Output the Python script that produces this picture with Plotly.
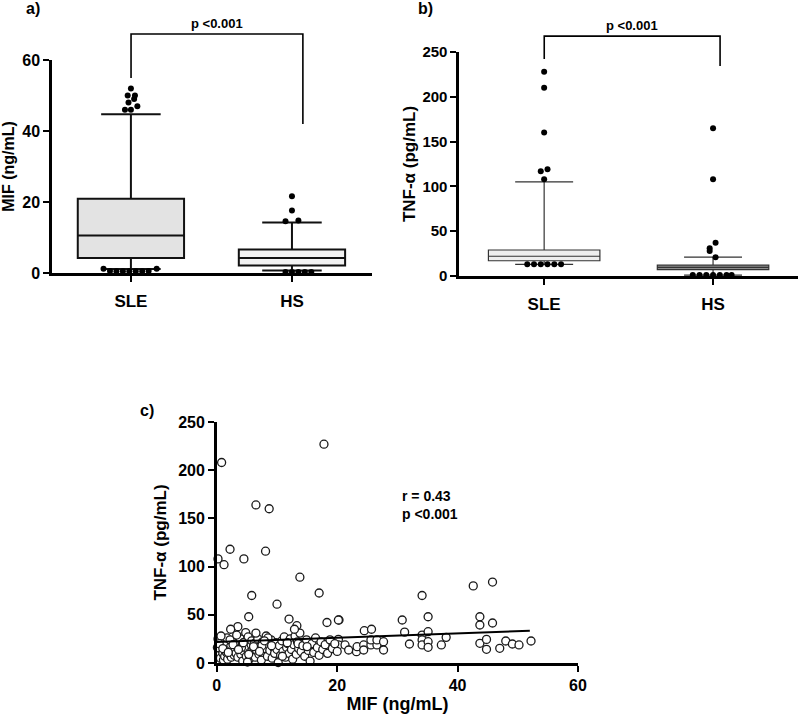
import plotly.graph_objects as go

# ---------------- data ----------------
categories = ["SLE", "HS"]
cat_pos = [0, 1]

# panel a: MIF (ng/mL) box summary
mif_q1 = [4.2, 2.1]
mif_median = [10.6, 4.2]
mif_q3 = [20.9, 6.6]
mif_low = [1.1, 0.7]
mif_high = [44.7, 14.2]
# outliers (category offset, value)
mif_sle_out_dx = [0.0, -0.02, 0.025, 0.02, -0.015, 0.04, -0.037, 0.0,
                  -0.17, -0.13, -0.09, -0.05, -0.01, 0.03, 0.07, 0.11, 0.16]
mif_sle_out_y = [52.0, 50.0, 50.0, 49.0, 48.0, 47.0, 46.0, 46.0,
                 1.2, 0.6, 0.5, 0.5, 0.5, 0.5, 0.5, 0.6, 1.2]
mif_hs_out_dx = [0.0, 0.0, -0.04, 0.04, -0.04, 0.0, 0.04, 0.08, 0.12]
mif_hs_out_y = [21.6, 17.6, 14.6, 14.8, 0.3, 0.3, 0.3, 0.3, 0.3]

# panel b: TNF-alpha (pg/mL) box summary
tnf_q1 = [17.0, 7.0]
tnf_median = [22.0, 9.5]
tnf_q3 = [29.0, 12.0]
tnf_low = [13.0, 1.0]
tnf_high = [105.0, 21.0]
tnf_sle_out_dx = [0.0, 0.0, 0.0, -0.02, 0.02, 0.0,
                  -0.1, -0.06, -0.02, 0.02, 0.06, 0.1]
tnf_sle_out_y = [228, 210, 160, 117, 119, 108,
                 13, 13, 13, 13, 13, 13]
tnf_hs_out_dx = [0.0, 0.0, 0.015, -0.02, -0.02, 0.015,
                 -0.12, -0.08, -0.04, 0.0, 0.04, 0.08, 0.11]
tnf_hs_out_y = [165, 108, 37, 31, 28, 21,
                1, 1, 1, 1, 1, 1, 1]

# panel c: scatter MIF vs TNF-alpha (SLE)
scatter_mif = [
    0.8, 17.8, 0.2, 1.2, 2.2, 4.5, 6.5, 8.7, 8.1, 13.8, 5.8, 10.0, 5.3, 12.0,
    17.0, 18.3, 20.3, 13.3, 3.5, 2.3, 4.8,
    42.6, 45.8, 34.1, 30.8, 35.1, 20.2, 43.7, 43.7, 45.8, 24.5, 25.7, 31.2,
    34.1, 35.1, 38.1,
    19.3, 20.2, 20.2, 21.3, 21.9, 23.2, 23.3, 24.4, 24.4, 25.6, 25.6, 26.6,
    26.6, 27.7, 27.7, 32.0, 34.1, 34.1, 35.1, 35.1, 37.3, 43.7, 44.8, 44.8,
    47.0, 48.0, 49.1, 50.2, 52.2,
    0.2, 0.3, 0.4, 0.5, 0.6, 0.8, 0.9, 1.0, 1.1, 1.2, 1.3, 1.5, 1.6, 1.7,
    1.8, 2.0, 2.1, 2.3, 2.4, 2.6, 2.8, 3.0, 0.1, 0.7, 1.4, 2.2, 2.9,
    3.2, 3.4, 3.5, 3.7, 3.9, 4.0, 4.2, 4.3, 4.5, 4.7, 4.9, 5.0, 5.2, 5.4,
    5.5, 5.7, 5.9, 6.0, 3.3, 4.1, 5.1, 5.8,
    6.2, 6.4, 6.6, 6.8, 7.0, 7.2, 7.4, 7.6, 7.8, 8.0, 8.2, 8.4, 8.6, 8.8,
    9.0, 9.2, 9.4, 9.6, 9.8, 10.0, 6.5, 7.5, 8.5,
    10.2, 10.4, 10.6, 10.8, 11.0, 11.2, 11.4, 11.6, 11.8, 12.0, 12.2, 12.4,
    12.6, 12.8, 13.0, 13.2, 13.4, 13.6, 13.8, 14.0, 12.9, 13.5,
    14.3, 14.6, 14.9, 15.2, 15.5, 15.8, 16.1, 16.4, 16.7, 17.0, 17.3, 17.6,
    18.0, 18.4, 18.8, 19.2, 19.6, 20.0,
    0.4, 1.0, 1.9, 2.7, 3.6, 4.4, 5.3, 6.1, 7.1, 7.9, 9.1, 10.9, 11.7, 15.0,
]
scatter_tnf = [
    208, 227, 108, 102, 118, 108, 164, 160, 116, 89, 70, 61, 48, 45.6,
    72.6, 42, 44.6, 38.7, 37.7, 35, 31.5,
    80, 84, 70, 44.6, 48, 44.6, 48, 39.4, 41.5, 33.5, 35, 32,
    29, 32.5, 26.6,
    17.6, 24.5, 18.7, 18.7, 13.5, 11.7, 16.9, 18.7, 13.5, 18.7, 23.9, 18.7,
    23.9, 22.1, 13.5, 19.7, 23.9, 18.7, 22.1, 16.3, 18.7, 20.4, 24.5, 14.2,
    15.2, 22.8, 19.7, 18.7, 22.8,
    25, 12, 8, 18, 5, 14, 22, 10, 3, 16, 7, 20, 11, 26,
    4, 13, 9, 17, 6, 22, 12, 15, 16, 28, 13, 24, 8,
    10, 20, 6, 14, 25, 9, 18, 2, 12, 22, 7, 15, 27, 4,
    11, 19, 8, 14, 29, 16, 1, 23,
    20, 6, 13, 25, 9, 17, 3, 22, 11, 15, 28, 7, 19, 13,
    24, 5, 16, 10, 21, 14, 31, 18, 26,
    0.5, 18, 8, 23, 12, 27, 6, 16, 20, 10, 25, 14,
    4, 19, 28, 9, 22, 15, 31, 12, 35, 20,
    18, 7, 24, 13, 2, 20, 11, 26, 16, 8, 22, 14,
    19, 10, 24, 15, 20, 12,
    20, 15, 11, 19, 14, 21, 9, 17, 12, 23, 18, 7, 21, 17,
]
fit_mif = [0, 52]
fit_tnf = [21.8, 33.5]

# ---------------- figure ----------------
FONT = "Liberation Sans"
fig = go.Figure()

def add_boxes(q1, med, q3, lo, hi, fills, lines, lw, ww, xa, ya):
    for i in range(2):
        fig.add_trace(go.Box(
            x=[cat_pos[i]], q1=[q1[i]], median=[med[i]], q3=[q3[i]],
            lowerfence=[lo[i]], upperfence=[hi[i]], width=0.66,
            fillcolor=fills[i], line=dict(color=lines[i], width=lw),
            whiskerwidth=ww, boxpoints=False, showlegend=False,
            xaxis=xa, yaxis=ya, hoverinfo="skip"))

def add_out(dx, ys, cat, xa, ya):
    fig.add_trace(go.Scatter(
        x=[cat_pos[cat] + d for d in dx], y=ys, mode="markers",
        marker=dict(color="black", size=6), showlegend=False,
        cliponaxis=False, xaxis=xa, yaxis=ya, hoverinfo="skip"))

add_boxes(mif_q1, mif_median, mif_q3, mif_low, mif_high,
          ["#e3e3e3", "#f2f2f2"], ["#111111", "#111111"], 2, 0.56, "x", "y")
add_out(mif_sle_out_dx, mif_sle_out_y, 0, "x", "y")
add_out(mif_hs_out_dx, mif_hs_out_y, 1, "x", "y")

add_boxes(tnf_q1, tnf_median, tnf_q3, tnf_low, tnf_high,
          ["#eeeeee", "#8c8c8c"], ["#333333", "#333333"], 1.2, 0.52, "x2", "y2")
add_out(tnf_sle_out_dx, tnf_sle_out_y, 0, "x2", "y2")
add_out(tnf_hs_out_dx, tnf_hs_out_y, 1, "x2", "y2")

fig.add_trace(go.Scatter(
    x=scatter_mif, y=scatter_tnf, mode="markers",
    marker=dict(color="white", size=8, line=dict(color="#1a1a1a", width=1.3)),
    showlegend=False, cliponaxis=False, xaxis="x3", yaxis="y3", hoverinfo="skip"))
fig.add_trace(go.Scatter(
    x=fit_mif, y=fit_tnf, mode="lines", line=dict(color="black", width=2),
    showlegend=False, xaxis="x3", yaxis="y3", hoverinfo="skip"))

def bfont(size):
    return dict(family=FONT, size=size, color="black", weight="bold")

common = dict(showline=True, linecolor="black", linewidth=2.5, ticks="outside",
              ticklen=6, tickwidth=2, tickcolor="black", showgrid=False,
              zeroline=False, fixedrange=True, automargin=False)

fig.update_layout(
    width=800, height=723, margin=dict(l=0, r=0, t=0, b=0, autoexpand=False),
    paper_bgcolor="white", plot_bgcolor="white",
    xaxis=dict(domain=[0.065, 0.465], range=[-0.49, 1.497], anchor="y",
               tickvals=cat_pos, ticktext=categories, tickfont=bfont(17),
               ticklabelstandoff=5, **common),
    yaxis=dict(domain=[0.6224, 0.917], range=[0, 60], anchor="x",
               tickvals=[0, 20, 40, 60], tickfont=bfont(16),
               title=dict(text="MIF (ng/mL)", font=bfont(16), standoff=4),
               **common),
    xaxis2=dict(domain=[0.574, 0.9975], range=[-0.503, 1.503], anchor="y2",
                tickvals=cat_pos, ticktext=categories, tickfont=bfont(17),
                ticklabelstandoff=5, **common),
    yaxis2=dict(domain=[0.6183, 0.9281], range=[0, 250], anchor="x2",
                tickvals=[0, 50, 100, 150, 200, 250], tickfont=bfont(15),
                title=dict(text="TNF-α (pg/mL)", font=bfont(17), standoff=3),
                **common),
    xaxis3=dict(domain=[0.271, 0.7225], range=[0, 60], anchor="y3",
                tickvals=[0, 20, 40, 60], tickfont=bfont(16),
                title=dict(text="MIF (ng/mL)", font=bfont(18), standoff=5),
                **common),
    yaxis3=dict(domain=[0.083, 0.4163], range=[0, 250], anchor="x3",
                tickvals=[0, 50, 100, 150, 200, 250], tickfont=bfont(16),
                title=dict(text="TNF-α (pg/mL)", font=bfont(17), standoff=8),
                **common),
)

# significance brackets
def bracket(xa, ya, xl, xr, ytop, yl, yr, label, ylab):
    fig.add_shape(type="path", xref=f"{xa} domain", yref=f"{ya} domain",
                  path=f"M {xl} {yl} L {xl} {ytop} L {xr} {ytop} L {xr} {yr}",
                  line=dict(color="black", width=1.6))
    fig.add_annotation(xref=f"{xa} domain", yref=f"{ya} domain",
                       x=(xl + xr) / 2, y=ylab, text=label, showarrow=False,
                       xanchor="center", yanchor="bottom",
                       font=bfont(13))

bracket("x", "y", 0.247, 0.784, 1.122, 0.915, 0.70, "p <0.001", 1.125)
bracket("x2", "y2", 0.251, 0.770, 1.071, 0.969, 0.9375, "p <0.001", 1.075)

fig.add_annotation(xref="x3 domain", yref="y3 domain", x=0.507, y=0.735,
                   xanchor="left", yanchor="top", align="left", showarrow=False,
                   text="r = 0.43<br>p <0.001", font=bfont(14))

for txt, x, y in [("a)", 33, 9), ("b)", 425, 9), ("c)", 147, 410)]:
    fig.add_annotation(xref="paper", yref="paper", x=x / 800, y=1 - y / 723,
                       xanchor="center", yanchor="middle",
                       text=txt, showarrow=False, font=bfont(16))

fig.write_html("out.html", config={"displayModeBar": False},
               post_script="document.body.style.margin='0';document.body.style.overflow='hidden';")
